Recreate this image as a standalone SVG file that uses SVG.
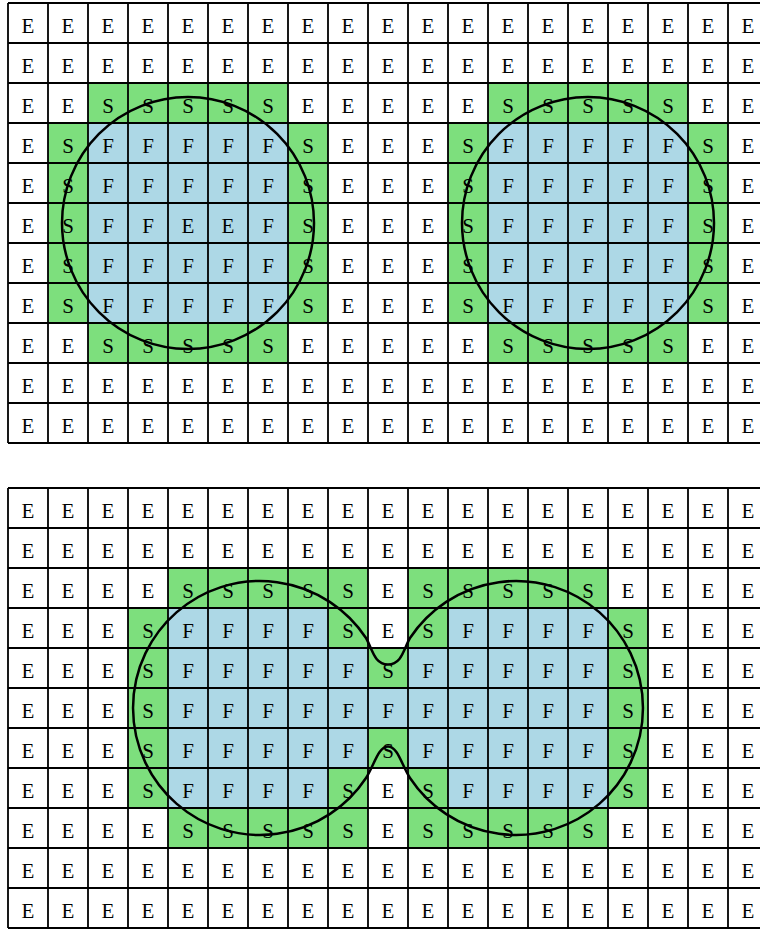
<svg xmlns="http://www.w3.org/2000/svg" width="760" height="929" viewBox="0 0 760 929">
<style>
.s{fill:#7ddf7d}
.f{fill:#add8e6}
.w{fill:#ffffff}
.grid{fill:none;stroke:#000;stroke-width:1.8}
.t{font-family:"Liberation Serif","Times New Roman",serif;font-size:21px;fill:#000;text-anchor:middle}
.curve{fill:none;stroke:#000;stroke-width:2.5}
</style>
<rect width="760" height="929" fill="#fff"/>
<g id="grid-top">
  <g id="fills-top">
    <rect class="f" x="88" y="123" width="200" height="200"/>
    <rect class="s" x="88" y="83" width="200" height="40"/>
    <rect class="s" x="88" y="323" width="200" height="40"/>
    <rect class="s" x="48" y="123" width="40" height="200"/>
    <rect class="s" x="288" y="123" width="40" height="200"/>
    <rect class="f" x="488" y="123" width="200" height="200"/>
    <rect class="s" x="488" y="83" width="200" height="40"/>
    <rect class="s" x="488" y="323" width="200" height="40"/>
    <rect class="s" x="448" y="123" width="40" height="200"/>
    <rect class="s" x="688" y="123" width="40" height="200"/>
  </g>
  <path class="grid" d="M8 3H768M8 43H768M8 83H768M8 123H768M8 163H768M8 203H768M8 243H768M8 283H768M8 323H768M8 363H768M8 403H768M8 443H768M8 3V443M48 3V443M88 3V443M128 3V443M168 3V443M208 3V443M248 3V443M288 3V443M328 3V443M368 3V443M408 3V443M448 3V443M488 3V443M528 3V443M568 3V443M608 3V443M648 3V443M688 3V443M728 3V443"/>
  <g id="labels-top" class="t">
    <text x="28 68 108 148 188 228 268 308 348 388 428 468 508 548 588 628 668 708 748" y="30" dy="3">EEEEEEEEEEEEEEEEEEE</text>
    <text x="28 68 108 148 188 228 268 308 348 388 428 468 508 548 588 628 668 708 748" y="70" dy="3">EEEEEEEEEEEEEEEEEEE</text>
    <text x="28 68 108 148 188 228 268 308 348 388 428 468 508 548 588 628 668 708 748" y="110" dy="3">EESSSSSEEEEESSSSSEE</text>
    <text x="28 68 108 148 188 228 268 308 348 388 428 468 508 548 588 628 668 708 748" y="150" dy="3">ESFFFFFSEEESFFFFFSE</text>
    <text x="28 68 108 148 188 228 268 308 348 388 428 468 508 548 588 628 668 708 748" y="190" dy="3">ESFFFFFSEEESFFFFFSE</text>
    <text x="28 68 108 148 188 228 268 308 348 388 428 468 508 548 588 628 668 708 748" y="230" dy="3">ESFFEEFSEEESFFFFFSE</text>
    <text x="28 68 108 148 188 228 268 308 348 388 428 468 508 548 588 628 668 708 748" y="270" dy="3">ESFFFFFSEEESFFFFFSE</text>
    <text x="28 68 108 148 188 228 268 308 348 388 428 468 508 548 588 628 668 708 748" y="310" dy="3">ESFFFFFSEEESFFFFFSE</text>
    <text x="28 68 108 148 188 228 268 308 348 388 428 468 508 548 588 628 668 708 748" y="350" dy="3">EESSSSSEEEEESSSSSEE</text>
    <text x="28 68 108 148 188 228 268 308 348 388 428 468 508 548 588 628 668 708 748" y="390" dy="3">EEEEEEEEEEEEEEEEEEE</text>
    <text x="28 68 108 148 188 228 268 308 348 388 428 468 508 548 588 628 668 708 748" y="430" dy="3">EEEEEEEEEEEEEEEEEEE</text>
  </g>
  <g id="circles-top">
    <circle class="curve" cx="188" cy="223" r="126"/>
    <circle class="curve" cx="588" cy="223" r="126"/>
  </g>
</g>
<g id="grid-bottom">
  <g id="fills-bottom">
    <rect class="f" x="168" y="608" width="440" height="200"/>
    <rect class="s" x="168" y="568" width="200" height="40"/>
    <rect class="s" x="408" y="568" width="200" height="40"/>
    <rect class="s" x="168" y="808" width="200" height="40"/>
    <rect class="s" x="408" y="808" width="200" height="40"/>
    <rect class="s" x="128" y="608" width="40" height="200"/>
    <rect class="s" x="608" y="608" width="40" height="200"/>
    <rect class="s" x="328" y="608" width="40" height="40"/>
    <rect class="s" x="408" y="608" width="40" height="40"/>
    <rect class="s" x="328" y="768" width="40" height="40"/>
    <rect class="s" x="408" y="768" width="40" height="40"/>
    <rect class="s" x="368" y="648" width="40" height="40"/>
    <rect class="s" x="368" y="728" width="40" height="40"/>
    <rect class="w" x="368" y="608" width="40" height="40"/>
    <rect class="w" x="368" y="768" width="40" height="40"/>
  </g>
  <path class="grid" d="M8 488H768M8 528H768M8 568H768M8 608H768M8 648H768M8 688H768M8 728H768M8 768H768M8 808H768M8 848H768M8 888H768M8 928H768M8 488V928M48 488V928M88 488V928M128 488V928M168 488V928M208 488V928M248 488V928M288 488V928M328 488V928M368 488V928M408 488V928M448 488V928M488 488V928M528 488V928M568 488V928M608 488V928M648 488V928M688 488V928M728 488V928"/>
  <g id="labels-bottom" class="t">
    <text x="28 68 108 148 188 228 268 308 348 388 428 468 508 548 588 628 668 708 748" y="515" dy="3">EEEEEEEEEEEEEEEEEEE</text>
    <text x="28 68 108 148 188 228 268 308 348 388 428 468 508 548 588 628 668 708 748" y="555" dy="3">EEEEEEEEEEEEEEEEEEE</text>
    <text x="28 68 108 148 188 228 268 308 348 388 428 468 508 548 588 628 668 708 748" y="595" dy="3">EEEESSSSSESSSSSEEEE</text>
    <text x="28 68 108 148 188 228 268 308 348 388 428 468 508 548 588 628 668 708 748" y="635" dy="3">EEESFFFFSESFFFFSEEE</text>
    <text x="28 68 108 148 188 228 268 308 348 388 428 468 508 548 588 628 668 708 748" y="675" dy="3">EEESFFFFFSFFFFFSEEE</text>
    <text x="28 68 108 148 188 228 268 308 348 388 428 468 508 548 588 628 668 708 748" y="715" dy="3">EEESFFFFFFFFFFFSEEE</text>
    <text x="28 68 108 148 188 228 268 308 348 388 428 468 508 548 588 628 668 708 748" y="755" dy="3">EEESFFFFFSFFFFFSEEE</text>
    <text x="28 68 108 148 188 228 268 308 348 388 428 468 508 548 588 628 668 708 748" y="795" dy="3">EEESFFFFSESFFFFSEEE</text>
    <text x="28 68 108 148 188 228 268 308 348 388 428 468 508 548 588 628 668 708 748" y="835" dy="3">EEEESSSSSESSSSSEEEE</text>
    <text x="28 68 108 148 188 228 268 308 348 388 428 468 508 548 588 628 668 708 748" y="875" dy="3">EEEEEEEEEEEEEEEEEEE</text>
    <text x="28 68 108 148 188 228 268 308 348 388 428 468 508 548 588 628 668 708 748" y="915" dy="3">EEEEEEEEEEEEEEEEEEE</text>
  </g>
  <g id="blob-bottom">
    <path class="curve" d="M366 638 C372 648 374 664.5 388 664.5 C402 664.5 404 648 410 638 A127 127 0 1 1 410 778 C402 766 398 746.5 388 746.5 C378 746.5 374 766 366 778 A127 127 0 1 1 366 638 Z"/>
  </g>
</g>
</svg>
